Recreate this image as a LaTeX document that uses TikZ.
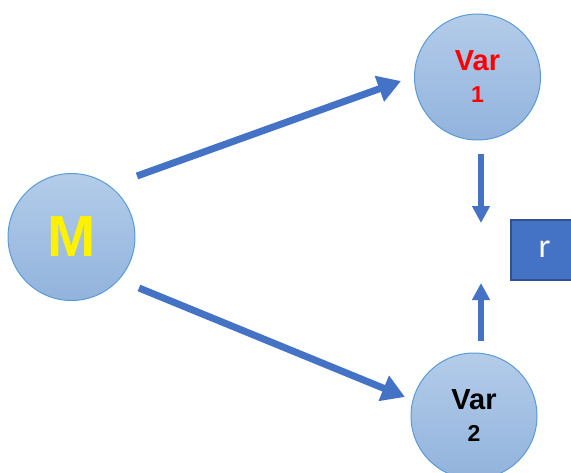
\documentclass[tikz,border=0pt]{standalone}
\usepackage{fontspec}
\setmainfont{Liberation Sans}
\newfontfamily\calib{Carlito}
\usetikzlibrary{arrows.meta}
\definecolor{arrowblue}{HTML}{4472C4}
\definecolor{circedge}{HTML}{5B9BD5}
\definecolor{circtop}{HTML}{B3CCE9}
\definecolor{circbot}{HTML}{92B3DD}
\definecolor{boxedge}{HTML}{2F528F}
\tikzset{
  bubble/.style={circle, draw=circedge, line width=1pt, top color=circtop, bottom color=circbot, minimum size=126pt, inner sep=0pt, align=center},
  vartext/.style={font=\bfseries\fontsize{29}{32}\selectfont},
  bigarrow/.style={draw=arrowblue, line width=7pt, -{Triangle[width=26pt,length=23pt]}},
  smallarrow/.style={draw=arrowblue, line width=5.5pt, -{Triangle[width=17pt,length=17pt]}},
  rbox/.style={draw=boxedge, line width=2pt, fill=arrowblue, minimum width=66pt, minimum height=60pt, inner sep=0pt, anchor=north west, text=white}
}
\begin{document}
\begin{tikzpicture}[x=1pt,y=-1pt]
\useasboundingbox (0,0) rectangle (571,472);
\node[bubble, minimum size=127pt, text=yellow, font=\bfseries\fontsize{58}{58}\selectfont] (m) at (71.5,237) {M};
\node[bubble, vartext, text=red] (v1) at (477.5,77) {Var\\\fontsize{23}{32}\selectfont 1};
\node[bubble, vartext, text=black] (v2) at (474,416) {Var\\\fontsize{23}{32}\selectfont 2};
\node[rbox] (r) at (510,219) {};
\node[text=white, font=\calib\fontsize{34}{34}\selectfont] (rt) at (544.5,249) {r};
\coordinate (a1s) at (137,176);
\coordinate (a1e) at (401,81);
\coordinate (a2s) at (139,288);
\coordinate (a2e) at (405,397);
\coordinate (d1s) at (481,154);
\coordinate (d1e) at (481,223);
\coordinate (u1s) at (481,341);
\coordinate (u1e) at (481,283);
\draw[bigarrow] (a1s) -- (a1e);
\draw[bigarrow] (a2s) -- (a2e);
\draw[smallarrow] (d1s) -- (d1e);
\draw[smallarrow] (u1s) -- (u1e);
\end{tikzpicture}
\end{document}
